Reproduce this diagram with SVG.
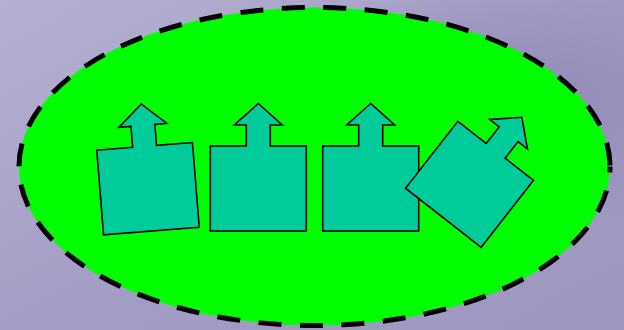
<svg xmlns="http://www.w3.org/2000/svg" width="624" height="330" viewBox="0 0 624 330">
  <defs>
    <linearGradient id="bg" x1="0" y1="0" x2="1" y2="1">
      <stop offset="0" stop-color="#b5b0d2"/>
      <stop offset="0.5" stop-color="#a49ec6"/>
      <stop offset="1" stop-color="#9d96bf"/>
    </linearGradient>
    <radialGradient id="bg2" cx="0.85" cy="0.3" r="0.4">
      <stop offset="0" stop-color="#8d86b4" stop-opacity="0.8"/>
      <stop offset="1" stop-color="#8d86b4" stop-opacity="0"/>
    </radialGradient>
    <path id="shape" d="M-48,-42.5 H-12 V-63.5 H-24 L0,-85 L24,-63.5 H12 V-42.5 H48 V42.5 H-48 Z"/>
  </defs>
  <style>
    .node use { fill: #00cc99; stroke: #000000; stroke-width: 1.6; stroke-linejoin: miter; }
    .area { fill: #00ff00; stroke: #000000; stroke-width: 5; stroke-dasharray: 23 18.5; stroke-dashoffset: 17; }
  </style>
  <rect width="624" height="330" fill="url(#bg)"/>
  <rect width="624" height="330" fill="url(#bg2)"/>
  <ellipse class="area" cx="314.5" cy="166.5" rx="295.5" ry="159"/>
  <g id="node1" class="node"><use href="#shape" transform="translate(148,188.7) rotate(-4.6)"/></g>
  <g id="node2" class="node"><use href="#shape" transform="translate(258.3,188.5)"/></g>
  <g id="node3" class="node"><use href="#shape" transform="translate(370.7,188.5)"/></g>
  <g id="node4" class="node"><use href="#shape" transform="translate(469.5,184.3) rotate(38)"/></g>
  <g id="connectors"/>
</svg>
